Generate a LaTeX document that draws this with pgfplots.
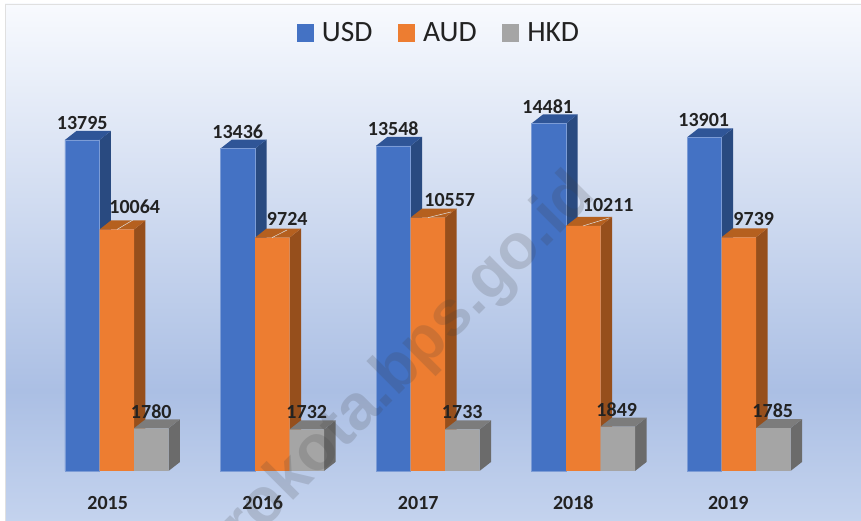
\documentclass[border=0pt]{standalone}
\usepackage{fontspec}
\setmainfont{Carlito}
\newfontfamily\wm{Liberation Sans}
\usepackage{pgfplots}
\pgfplotsset{compat=1.18}
\definecolor{cU}{HTML}{4472C4}\definecolor{cUs}{HTML}{294A80}\definecolor{cUt}{HTML}{2F5597}
\definecolor{cA}{HTML}{ED7D31}\definecolor{cAs}{HTML}{964F1C}\definecolor{cAt}{HTML}{B5601F}
\definecolor{cH}{HTML}{A5A5A5}\definecolor{cHs}{HTML}{6B6B6B}\definecolor{cHt}{HTML}{7C7C7C}
\definecolor{bgT}{HTML}{F8FAFE}\definecolor{bgM}{HTML}{ABBFE4}\definecolor{bgB}{HTML}{C4D3EE}
\definecolor{txt}{HTML}{222222}
\pgfdeclareverticalshading{bgshade}{100bp}{
  color(0bp)=(bgB); color(25bp)=(bgB); color(37.6bp)=(bgM); color(75bp)=(bgT); color(100bp)=(bgT)}
\def\bw{0.22186}\def\ddx{0.07395}\def\ddy{375}
% #1 year, #2 value, #3 series position (-1,0,1), #4 side colour, #5 top colour
\newcommand\faces[5]{%
  \edef\xl{\fpeval{#1+(#3-0.5)*\bw}}%
  \edef\xr{\fpeval{#1+(#3+0.5)*\bw}}%
  \edef\xlb{\fpeval{\xl+\ddx}}%
  \edef\xrb{\fpeval{\xr+\ddx}}%
  \edef\yt{\fpeval{#2+\ddy}}%
  \edef\tmp{\noexpand\addplot[fill=#4,draw=none,mark=none,forget plot] coordinates {(\xr,0) (\xrb,\ddy) (\xrb,\yt) (\xr,#2)} -- cycle;
  \noexpand\addplot[fill=#5,draw=none,mark=none,forget plot] coordinates {(\xl,#2) (\xlb,\yt) (\xrb,\yt) (\xr,#2)} -- cycle;}%
  \tmp}
% #1 year, #2 value, #3 xshift in pt, #4 yshift in pt
\newcommand\lab[4]{\node[font=\bfseries\fontsize{20}{20}\selectfont,text=txt,anchor=center,inner sep=0pt]
  at (axis cs:#1,#2) [xshift=#3pt,yshift=#4pt] {#2};}
\begin{document}
\begin{tikzpicture}[x=1pt,y=1pt]
\useasboundingbox (0,-50) rectangle (861,471);
\fill[white] (0,-50) rectangle (861,471);
\shade[shading=bgshade] (5,-50) rectangle (861,467);
\draw[color=black!12,line width=0.8pt] (5,-50) -- (5,467) -- (861,467);
\begin{axis}[
  at={(0,0)},anchor=south west,
  scale only axis,width=861pt,height=471pt,
  xmin=2014.2492,xmax=2019.7862,ymin=0,ymax=19625,
  clip=false,
  axis line style={draw=none},tick style={draw=none},
  ytick=\empty,
  xtick={2014.942,2015.939,2016.939,2017.936,2018.933},
  xticklabels={2015,2016,2017,2018,2019},
  x tick label style={font=\bfseries\fontsize{20}{20}\selectfont,text=txt,anchor=center,yshift=-32pt,inner sep=0pt},
  legend style={at={(0.5099,0.93)},anchor=center,draw=none,fill=none,legend columns=3,
    font=\fontsize{29.5}{30}\selectfont,text=txt,
    /tikz/every even column/.append style={column sep=23.5pt}},
  legend cell align=left,
  legend image code/.code={\fill[#1,draw=none] (0pt,-9pt) rectangle (17pt,9pt);\path[draw=none,fill=none] (0pt,0pt) -- (23pt,0pt);},
]
% USD
\faces{2015}{13795}{-1}{cUs}{cUt}
\faces{2016}{13436}{-1}{cUs}{cUt}
\faces{2017}{13548}{-1}{cUs}{cUt}
\faces{2018}{14481}{-1}{cUs}{cUt}
\faces{2019}{13901}{-1}{cUs}{cUt}
\addplot[ybar,bar width=34.5pt,bar shift=-34.5pt,fill=cU,draw=cU!70!white,line width=0.5pt] coordinates {(2015,13795)(2016,13436)(2017,13548)(2018,14481)(2019,13901)};
\addlegendentry{USD}
% AUD
\faces{2015}{10064}{0}{cAs}{cAt}
\faces{2016}{9724}{0}{cAs}{cAt}
\faces{2017}{10557}{0}{cAs}{cAt}
\faces{2018}{10211}{0}{cAs}{cAt}
\faces{2019}{9739}{0}{cAs}{cAt}
\addplot[ybar,bar width=34.5pt,bar shift=0pt,fill=cA,draw=none] coordinates {(2015,10064)(2016,9724)(2017,10557)(2018,10211)(2019,9739)};
\addlegendentry{AUD}
% HKD
\faces{2015}{1780}{1}{cHs}{cHt}
\faces{2016}{1732}{1}{cHs}{cHt}
\faces{2017}{1733}{1}{cHs}{cHt}
\faces{2018}{1849}{1}{cHs}{cHt}
\faces{2019}{1785}{1}{cHs}{cHt}
\addplot[ybar,bar width=34.5pt,bar shift=34.5pt,fill=cH,draw=none] coordinates {(2015,1780)(2016,1732)(2017,1733)(2018,1849)(2019,1785)};
\addlegendentry{HKD}
% leader lines
\addplot[color=black!12!white,line width=0.5pt,mark=none,forget plot] coordinates {(2015.0016,10064)(2015.1045,10458)};
\addplot[color=black!12!white,line width=0.5pt,mark=none,forget plot] coordinates {(2015.9984,9724)(2016.0949,10042)};
\addplot[color=black!12!white,line width=0.5pt,mark=none,forget plot] coordinates {(2017.0016,10557)(2017.1495,10792)};
\addplot[color=black!12!white,line width=0.5pt,mark=none,forget plot] coordinates {(2017.9984,10211)(2018.1656,10542)};
% value labels
\lab{2015}{13795}{-34.5}{17}
\lab{2016}{13436}{-34.5}{17}
\lab{2017}{13548}{-34.5}{17}
\lab{2018}{14481}{-35.5}{17}
\lab{2019}{13901}{-35}{17}
\lab{2015}{10064}{18}{23}
\lab{2016}{9724}{15}{19}
\lab{2017}{10557}{22}{18}
\lab{2018}{10211}{25}{21}
\lab{2019}{9739}{15}{18}
\lab{2015}{1780}{34.5}{17}
\lab{2016}{1732}{34.5}{17}
\lab{2017}{1733}{34.5}{17}
\lab{2018}{1849}{33.5}{17}
\lab{2019}{1785}{34}{17}
\end{axis}
\begin{scope}
\clip (0,-50) rectangle (861,471);
\node[rotate=45,anchor=base east,inner sep=0pt,font=\wm\bfseries\fontsize{64}{64}\selectfont,text=black!75,opacity=0.18,text opacity=0.18] at (597.5,274.5) {rokota.bps.go.id};
\end{scope}
\end{tikzpicture}
\end{document}
